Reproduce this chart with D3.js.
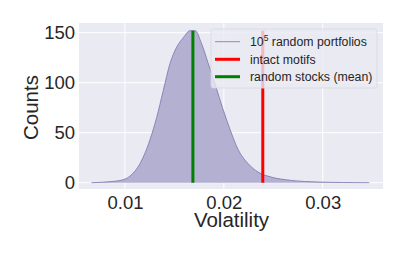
<!DOCTYPE html>
<html>
<head>
<meta charset="utf-8">
<script src="https://cdn.jsdelivr.net/npm/d3@7"></script>
<style>
  body { margin: 0; background: #fff; }
  text { font-family: "Liberation Sans", Arial, sans-serif; fill: #262626; }
</style>
</head>
<body>
<div id="chart"></div>
<script>
// distribution of volatility over random portfolios
var volatility = [0.0066, 0.0087, 0.0095, 0.0100, 0.0105, 0.0110, 0.01152, 0.0120, 0.01253, 0.0132,
                  0.01387, 0.01455, 0.0152, 0.0159, 0.01657, 0.0171, 0.01775, 0.0184, 0.0191, 0.0199,
                  0.0206, 0.02145, 0.02246, 0.02347, 0.02481, 0.02684, 0.0295, 0.0320, 0.0347];
var counts = [0, 1.2, 2.2, 3.6, 6.5, 11.5, 19, 29, 43, 65,
              92, 119, 135, 145, 152, 152, 139, 120, 99, 74,
              54, 33, 19, 10.6, 5.6, 2.3, 0.7, 0.2, 0];
var intactMotifs = 0.02394;
var randomStocksMean = 0.01687;
var lineTop = 152;
var xTicks = [0.01, 0.02, 0.03];
var yTicks = [0, 50, 100, 150];
var legendLabels = ["random portfolios", "intact motifs", "random stocks (mean)"];

var width = 407, height = 255;
var margin = {left: 79, right: 24, top: 23, bottom: 66};

var svg = d3.select("#chart").append("svg")
    .attr("width", width).attr("height", height);

var x = d3.scaleLinear().domain([0.00535, 0.0361]).range([margin.left, width - margin.right]);
var y = d3.scaleLinear().domain([-6.3, 159.7]).range([height - margin.bottom, margin.top]);

svg.append("rect")
    .attr("x", margin.left).attr("y", margin.top)
    .attr("width", width - margin.left - margin.right)
    .attr("height", height - margin.top - margin.bottom)
    .attr("fill", "#EAEAF2");

// grid
svg.selectAll(".gx").data(xTicks).enter().append("line")
    .attr("x1", d => x(d)).attr("x2", d => x(d))
    .attr("y1", margin.top).attr("y2", height - margin.bottom)
    .attr("stroke", "#fff").attr("stroke-width", 1);
svg.selectAll(".gy").data(yTicks).enter().append("line")
    .attr("y1", d => y(d)).attr("y2", d => y(d))
    .attr("x1", margin.left).attr("x2", width - margin.right)
    .attr("stroke", "#fff").attr("stroke-width", 1);

var pts = volatility.map((v, i) => [v, counts[i]]);

var area = d3.area().x(d => x(d[0])).y0(y(0)).y1(d => y(d[1])).curve(d3.curveMonotoneX);
var line = d3.line().x(d => x(d[0])).y(d => y(d[1])).curve(d3.curveMonotoneX);

svg.append("path").datum(pts).attr("d", area).attr("fill", "#b4b0d1");
svg.append("path").datum(pts).attr("d", line)
    .attr("fill", "none").attr("stroke", "#7a72b0").attr("stroke-width", 0.8);

svg.append("line")
    .attr("x1", x(intactMotifs)).attr("x2", x(intactMotifs))
    .attr("y1", y(0)).attr("y2", y(lineTop))
    .attr("stroke", "#ff0000").attr("stroke-width", 3);
svg.append("line")
    .attr("x1", x(randomStocksMean)).attr("x2", x(randomStocksMean))
    .attr("y1", y(0)).attr("y2", y(lineTop))
    .attr("stroke", "#008000").attr("stroke-width", 3);

// axes (labels only)
var xAxis = svg.append("g")
    .attr("transform", "translate(0," + (height - margin.bottom) + ")")
    .call(d3.axisBottom(x).tickValues(xTicks).tickSize(0).tickPadding(7).tickFormat(d3.format(".2f")));
var yAxis = svg.append("g")
    .attr("transform", "translate(" + margin.left + ",0)")
    .call(d3.axisLeft(y).tickValues(yTicks).tickSize(0).tickPadding(4));
[xAxis, yAxis].forEach(function(g) {
    g.select(".domain").remove();
    g.selectAll("text").attr("font-size", "18.5px")
        .attr("font-family", "'Liberation Sans', Arial, sans-serif").attr("fill", "#262626");
});

svg.append("text")
    .attr("x", (margin.left + width - margin.right) / 2 + 0.5).attr("y", 227)
    .attr("text-anchor", "middle").attr("font-size", "20.5px").text("Volatility");
svg.append("text")
    .attr("transform", "translate(38,107.5) rotate(-90)")
    .attr("text-anchor", "middle").attr("font-size", "20.5px").text("Counts");

// legend
var lg = svg.append("g");
lg.append("rect")
    .attr("x", 211).attr("y", 29).attr("width", 166).attr("height", 59).attr("rx", 2.5)
    .attr("fill", "#EAEAF2").attr("fill-opacity", 0.8)
    .attr("stroke", "#d8d8e0").attr("stroke-width", 0.8);
var rowY = [41.7, 59.3, 76.7];
var rowColor = ["#7a72b0", "#ff0000", "#008000"];
var rowWidth = [0.8, 3, 3];
rowY.forEach(function(ry, i) {
    lg.append("line").attr("x1", 215).attr("x2", 240).attr("y1", ry).attr("y2", ry)
        .attr("stroke", rowColor[i]).attr("stroke-width", rowWidth[i]);
    var t = lg.append("text").attr("x", 250).attr("y", ry + 4.3).attr("font-size", "12.3px");
    if (i === 0) {
        t.append("tspan").text("10");
        t.append("tspan").attr("dy", -5).attr("font-size", "8.5px").text("5");
        t.append("tspan").attr("dy", 5).text(" " + legendLabels[i]);
    } else {
        t.text(legendLabels[i]);
    }
});
</script>
</body>
</html>
